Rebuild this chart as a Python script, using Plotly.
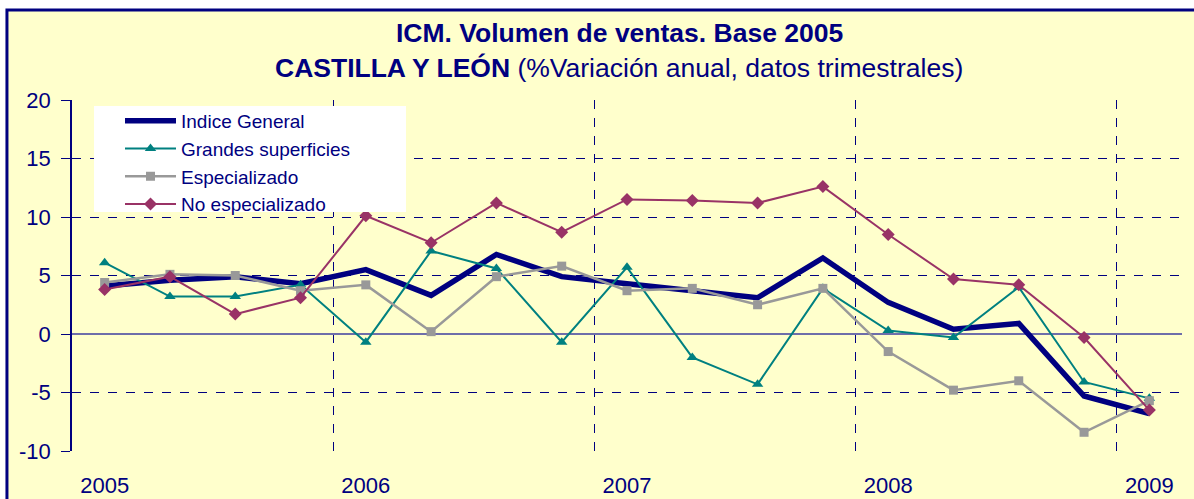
import plotly.graph_objects as go

quarters = ["2005T1", "2005T2", "2005T3", "2005T4",
            "2006T1", "2006T2", "2006T3", "2006T4",
            "2007T1", "2007T2", "2007T3", "2007T4",
            "2008T1", "2008T2", "2008T3", "2008T4",
            "2009T1"]
year_ticks = [0, 4, 8, 12, 16]
year_labels = ["2005", "2006", "2007", "2008", "2009"]
y_ticks = [-10, -5, 0, 5, 10, 15, 20]
y_labels = ["-10", "-5", "0", "5", "10", "15", "20"]

indice_general = [4.1, 4.6, 4.9, 4.3, 5.5, 3.3, 6.8, 4.9, 4.3, 3.7, 3.1, 6.5, 2.7, 0.4, 0.9, -5.3, -6.8]
grandes_superficies = [6.1, 3.2, 3.2, 4.2, -0.7, 7.1, 5.6, -0.7, 5.7, -2.0, -4.3, 3.9, 0.3, -0.3, 4.0, -4.1, -5.5]
especializado = [4.4, 5.1, 5.0, 3.7, 4.2, 0.2, 4.9, 5.8, 3.7, 3.9, 2.5, 3.9, -1.5, -4.8, -4.0, -8.4, -5.7]
no_especializado = [3.8, 4.9, 1.7, 3.1, 10.1, 7.8, 11.2, 8.7, 11.5, 11.4, 11.2, 12.6, 8.5, 4.7, 4.2, -0.3, -6.5]

NAVY = "#000080"
FONT = "Liberation Sans, Arial, sans-serif"
xidx = list(range(len(quarters)))

fig = go.Figure()
fig.add_trace(go.Scatter(x=xidx, y=indice_general, name="Indice General", mode="lines",
                         line=dict(color=NAVY, width=5.5), text=quarters))
fig.add_trace(go.Scatter(x=xidx, y=grandes_superficies, name="Grandes superficies", mode="lines+markers",
                         line=dict(color="#008080", width=2),
                         marker=dict(symbol="triangle-up", size=10, color="#008080"), text=quarters))
fig.add_trace(go.Scatter(x=xidx, y=especializado, name="Especializado", mode="lines+markers",
                         line=dict(color="#999999", width=2.5),
                         marker=dict(symbol="square", size=9, color="#999999"), text=quarters))
fig.add_trace(go.Scatter(x=xidx, y=no_especializado, name="No especializado", mode="lines+markers",
                         line=dict(color="#993366", width=2),
                         marker=dict(symbol="diamond", size=10, color="#993366"), text=quarters))

# outer chart frame (pale yellow with navy border)
fig.add_shape(type="rect", xref="paper", yref="paper",
              x0=-0.0586, x1=1.02, y0=-0.16, y1=1.2564,
              fillcolor="#FFFFCC", line=dict(color=NAVY, width=3), layer="below")
# white legend panel
fig.add_shape(type="rect", xref="paper", yref="paper",
              x0=(94 - 72) / 1110, x1=(406 - 72) / 1110, y0=(451 - 212) / 351, y1=(451 - 106) / 351,
              fillcolor="white", line=dict(width=0), layer="above")

fig.add_annotation(text="<b>ICM. Volumen de ventas. Base 2005</b>", xref="paper", yref="paper",
                   x=0.493, y=(451 - 33) / 351, showarrow=False,
                   font=dict(family=FONT, size=26.5, color=NAVY), xanchor="center", yanchor="middle")
fig.add_annotation(text="<b>CASTILLA Y LEÓN</b> (%Variación anual, datos trimestrales)", xref="paper", yref="paper",
                   x=0.493, y=(451 - 68) / 351, showarrow=False,
                   font=dict(family=FONT, size=26.5, color=NAVY), xanchor="center", yanchor="middle")

fig.update_layout(
    width=1194, height=499,
    margin=dict(l=72, r=12, t=100, b=48),
    paper_bgcolor="white",
    plot_bgcolor="rgba(0,0,0,0)",
    font=dict(family=FONT, color=NAVY),
    showlegend=True,
    legend=dict(x=(120 - 72) / 1110, y=(451 - 102) / 351, xanchor="left", yanchor="top",
                bgcolor="rgba(0,0,0,0)", borderwidth=0, font=dict(family=FONT, size=19, color=NAVY),
                itemwidth=51, tracegroupgap=0),
)
fig.update_xaxes(
    range=[-0.5, 16.5], tickmode="array", tickvals=year_ticks, ticktext=year_labels,
    showgrid=False, zeroline=False, showline=False, ticks="", automargin=False,
    tickfont=dict(family=FONT, size=22, color=NAVY), ticklabelstandoff=19,
    minor=dict(tickmode="array", tickvals=[3.5, 7.5, 11.5, 15.5, 16.5], showgrid=True,
               gridcolor=NAVY, griddash="dash", gridwidth=1, ticks=""),
)
fig.update_yaxes(
    range=[-10, 20], tickmode="array", tickvals=y_ticks, ticktext=y_labels,
    showgrid=True, gridcolor=NAVY, griddash="dash", gridwidth=1, automargin=False,
    zeroline=True, zerolinecolor="#6E6EAA", zerolinewidth=2,
    showline=True, linecolor=NAVY, linewidth=1.5,
    ticks="outside", ticklen=9, tickcolor=NAVY, ticklabelstandoff=6,
    tickfont=dict(family=FONT, size=22, color=NAVY),
)

fig.write_html("out.html", config={"displayModeBar": False},
               post_script="document.body.style.margin='0px';")
